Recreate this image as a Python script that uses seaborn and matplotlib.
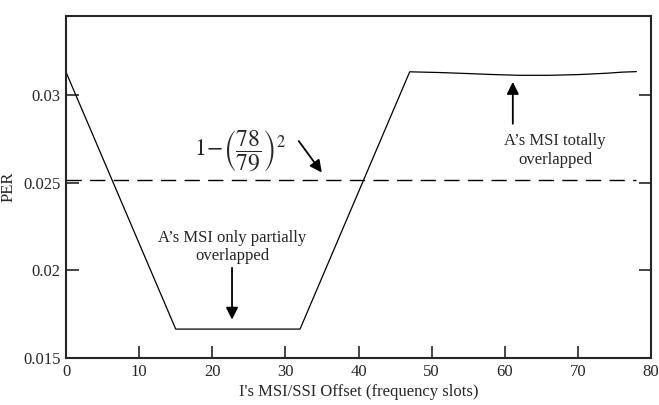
import numpy as np
import pandas as pd
import matplotlib
matplotlib.use('Agg')
import matplotlib.pyplot as plt
import seaborn as sns

# PER vs offset (breakpoints of the curve)
offset = [0, 15, 32, 47, 51, 55, 58, 62, 66, 70, 74, 76, 78]
per = [0.03130, 0.01665, 0.01665, 0.03132, 0.03128, 0.03122, 0.03117, 0.03112,
       0.03112, 0.03116, 0.03124, 0.03130, 0.03133]

# theoretical level 1-(78/79)^2
ref_x = [0, 78]
ref_level = 1 - (78 / 79) ** 2

x_ticks = [0, 10, 20, 30, 40, 50, 60, 70, 80]
y_ticks = [0.015, 0.02, 0.025, 0.03]
y_labels = ['0.015', '0.02', '0.025', '0.03']

sns.set_style('ticks')
plt.rcParams['font.family'] = ['Liberation Serif', 'DejaVu Serif']
plt.rcParams['mathtext.fontset'] = 'stix'

fig = plt.figure(figsize=(6.59, 4.05), dpi=100)
ax = fig.add_axes([0.1002, 0.116, 0.8877, 0.8444])

df = pd.DataFrame({'offset': offset, 'PER': per})
sns.lineplot(data=df, x='offset', y='PER', ax=ax, color='black', linewidth=0.9)
ax.plot(ref_x, [ref_level, ref_level], color='black', linewidth=1.0,
        dashes=(11, 6))

ax.set_xlim(0, 80)
ax.set_ylim(0.015, 0.0345)
ax.set_xticks(x_ticks)
ax.set_yticks(y_ticks)
ax.set_yticklabels(y_labels)
ax.tick_params(direction='in', length=9, width=1.2, labelsize=12,
               right=True, top=False, pad=4)
for s in ax.spines.values():
    s.set_linewidth(1.5)
    s.set_visible(True)

ax.set_xlabel("I's MSI/SSI Offset (frequency slots)", fontsize=12, labelpad=3)
ax.set_ylabel('PER', fontsize=12, labelpad=5)

# annotations
ax.text(23.8, 0.0268, r'$1\!-\!\left(\dfrac{78}{79}\right)^{2}$', fontsize=17,
        ha='center', va='center')
ax.annotate('', xy=(35.2, 0.02545), xytext=(31.6, 0.0275),
            arrowprops=dict(arrowstyle='-|>', color='black', lw=1.3,
                            mutation_scale=18))
ax.text(22.7, 0.02134, "A\u2019s MSI only partially\noverlapped", fontsize=12,
        ha='center', va='center', linespacing=1.2)
ax.annotate('', xy=(22.7, 0.01703), xytext=(22.7, 0.0203),
            arrowprops=dict(arrowstyle='-|>', color='black', lw=1.3,
                            mutation_scale=18))
ax.text(66.9, 0.02683, "A\u2019s MSI totally\noverlapped", fontsize=12,
        ha='center', va='center', linespacing=1.2)
ax.annotate('', xy=(61.1, 0.0309), xytext=(61.1, 0.0282),
            arrowprops=dict(arrowstyle='-|>', color='black', lw=1.3,
                            mutation_scale=18))

fig.savefig('out.png', dpi=100)
